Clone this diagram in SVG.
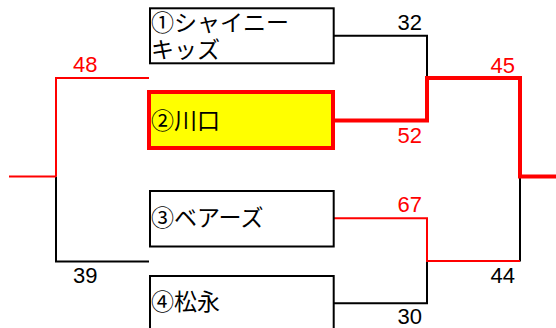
<svg xmlns="http://www.w3.org/2000/svg" width="556" height="328" viewBox="0 0 556 328">
<style>
.box{fill:#fff;stroke:#000;stroke-width:2}
.win{fill:#ffff00;stroke:#ff0000;stroke-width:4}
.name{font-family:"Noto Sans CJK JP","Liberation Sans",sans-serif;font-size:23px;fill:#000}
.sc{font-family:"Liberation Sans",Arial,sans-serif;font-size:22px}
.k{fill:#000}
.r{fill:#ff0000}
.lk{fill:none;stroke:#000;stroke-width:2}
.lr{fill:none;stroke:#ff0000;stroke-width:2}
.lR{fill:none;stroke:#ff0000;stroke-width:4}
</style>
<rect width="556" height="328" fill="#fff"/>
<g id="connectors">
<polyline class="lk" points="334,35.7 427,35.7 427,78"/>
<polyline class="lk" points="520,176.5 520,261.5"/>
<polyline class="lk" points="427,261 427,303.3 334,303.3"/>
<polyline class="lk" points="56,176.5 56,261.5 149,261.5"/>
<polyline class="lr" points="334,218.3 427,218.3 427,261 520,261"/>
<polyline class="lr" points="149,78 56,78 56,176.5"/>
<line class="lr" x1="9" y1="176.5" x2="56" y2="176.5"/>
<polyline class="lR" points="335,120.5 427,120.5 427,78 520,78 520,176.5 556,176.5"/>
</g>
<g id="node1">
<rect class="box" x="150" y="8.3" width="183.7" height="55"/>
<text class="name" x="151" y="31">①シャイニー</text>
<text class="name" x="151" y="58">キッズ</text>
</g>
<g id="node2">
<rect class="win" x="149" y="92" width="184" height="56"/>
<text class="name" x="151" y="129">②川口</text>
</g>
<g id="node3">
<rect class="box" x="150" y="191" width="183.7" height="55.5"/>
<text class="name" x="151" y="226">③ベアーズ</text>
</g>
<g id="node4">
<rect class="box" x="150" y="276" width="183.7" height="60"/>
<text class="name" x="151" y="310">④松永</text>
</g>
<g id="scores">
<text class="sc k" x="422" y="30" text-anchor="end">32</text>
<text class="sc r" x="422" y="142.7" text-anchor="end">52</text>
<text class="sc r" x="515" y="72.7" text-anchor="end">45</text>
<text class="sc r" x="73" y="72">48</text>
<text class="sc k" x="73" y="283">39</text>
<text class="sc r" x="422" y="212" text-anchor="end">67</text>
<text class="sc k" x="515" y="283" text-anchor="end">44</text>
<text class="sc k" x="422" y="324" text-anchor="end">30</text>
</g>
</svg>
